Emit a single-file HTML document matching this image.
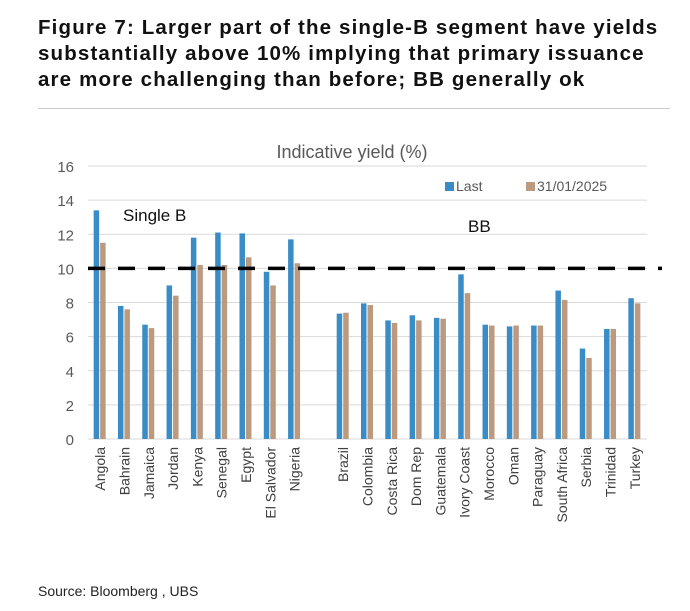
<!DOCTYPE html>
<html><head><meta charset="utf-8"><style>
body{margin:0;background:#fff;font-family:"Liberation Sans",sans-serif;}
#t{position:absolute;left:38px;top:15px;font-weight:bold;font-size:20.5px;line-height:26px;color:#111;letter-spacing:1.15px;white-space:nowrap}
#rule{position:absolute;left:38px;top:108px;width:632px;height:1px;background:#ccc}
#src{position:absolute;left:38px;top:583px;font-size:14px;color:#222}
svg{position:absolute;left:0;top:0}
</style></head><body>
<div id="t">Figure 7: Larger part of the single-B segment have yields<br>substantially above 10% implying that primary issuance<br>are more challenging than before; BB generally ok</div>
<div id="rule"></div>
<div id="src">Source: Bloomberg , UBS</div>
<svg id="c" width="690" height="611"></svg>
<script>
const categories=["Angola","Bahrain","Jamaica","Jordan","Kenya","Senegal","Egypt","El Salvador","Nigeria","","Brazil","Colombia","Costa Rica","Dom Rep","Guatemala","Ivory Coast","Morocco","Oman","Paraguay","South Africa","Serbia","Trinidad","Turkey"];
const lastVals=[13.4,7.8,6.7,9.0,11.8,12.1,12.05,9.8,11.7,null,7.35,7.95,6.95,7.25,7.1,9.65,6.7,6.6,6.65,8.7,5.3,6.45,8.25];
const janVals=[11.5,7.6,6.5,8.4,10.2,10.2,10.65,9.0,10.3,null,7.4,7.85,6.8,6.95,7.05,8.55,6.65,6.65,6.65,8.15,4.75,6.45,7.95];
const yTicks=[0,2,4,6,8,10,12,14,16];
const threshold=10;
const svg=document.getElementById('c'),NS='http://www.w3.org/2000/svg';
const x0=88,x1=647,yb=439,yt=166,ymax=16;
const y=v=>yb-(v/ymax)*(yb-yt);
const slot=(x1-x0)/categories.length;
function mk(tag,a,txt){const e=document.createElementNS(NS,tag);for(const k in a)e.setAttribute(k,a[k]);if(txt!=null)e.textContent=txt;svg.appendChild(e);return e;}
yTicks.forEach(t=>{
 const g=mk('line',{x1:x0,x2:x1,y1:y(t),y2:y(t),stroke:'#d9d9d9','stroke-width':1});
 
 
 const l=mk('text',{x:74,y:y(t)+6,'text-anchor':'end','font-size':15,fill:'#595959'},t);
 
 
});
categories.forEach((c,i)=>{
 const cx=x0+slot*(i+0.5);
 if(lastVals[i]!=null){
  const b=mk('rect',{x:cx-6.5,y:y(lastVals[i]),width:5.5,height:yb-y(lastVals[i]),fill:'#3a8cc6'});
  
  
 }
 if(janVals[i]!=null){
  const b=mk('rect',{x:cx,y:y(janVals[i]),width:5.5,height:yb-y(janVals[i]),fill:'#bb9a80'});
  
  
 }
 if(c){
  const l=mk('text',{x:0,y:0,'text-anchor':'end','font-size':14,fill:'#404040',transform:`translate(${cx+5},447) rotate(-90)`},c);
  
  
 }
});
const th=mk('line',{x1:x0,x2:662,y1:y(threshold),y2:y(threshold),stroke:'#000','stroke-width':3.5,'stroke-dasharray':'17,13'});


const ct=mk('text',{x:352,y:158,'text-anchor':'middle','font-size':18,fill:'#595959'},'Indicative yield (%)');


const sb=mk('text',{x:123,y:221,'font-size':17,fill:'#111'},'Single B');


const bb=mk('text',{x:468,y:232,'font-size':17,fill:'#111'},'BB');


const l1=mk('rect',{x:445,y:182,width:9,height:9,fill:'#3a8cc6'});


const l1t=mk('text',{x:456,y:191,'font-size':14,fill:'#595959'},'Last');


const l2=mk('rect',{x:526,y:182,width:9,height:9,fill:'#bb9a80'});


const l2t=mk('text',{x:537,y:191,'font-size':14,fill:'#595959'},'31/01/2025');


</script>
</body></html>
